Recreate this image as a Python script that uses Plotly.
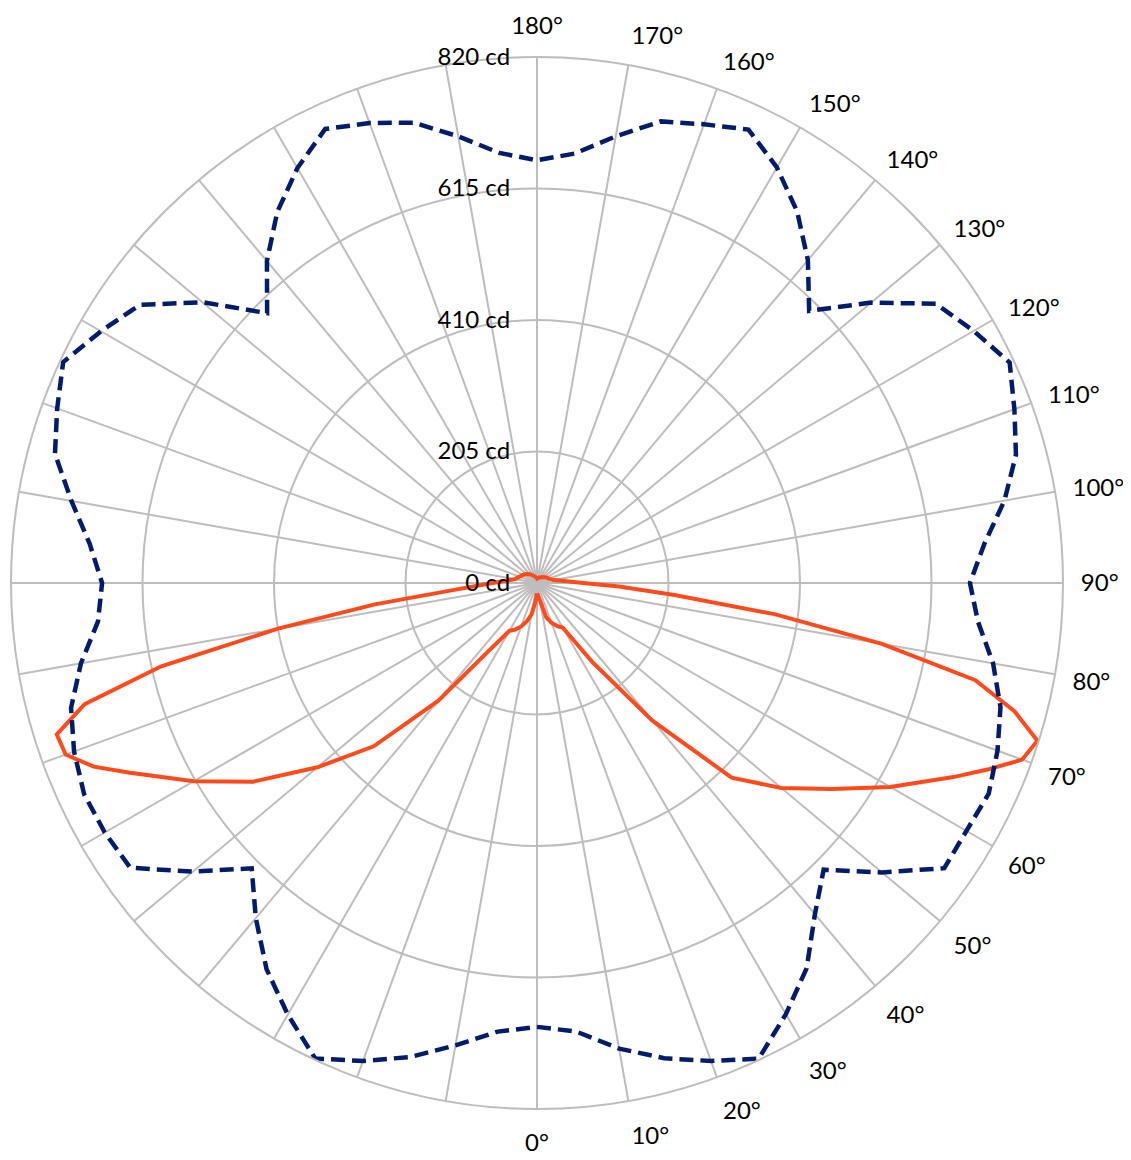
import plotly.graph_objects as go

# Gamma angles (degrees) and luminous intensities (cd)
gamma_blue = list(range(0, 181, 5))
blue_right = [692, 702, 737, 767, 793, 818, 776, 733, 674, 632, 702, 775, 773, 777,
              764, 748, 722, 690, 675, 700, 740, 773, 792, 813, 786, 759, 680, 600,
              657, 707, 748, 780, 761, 745, 707, 672, 659]
blue_left = [692, 702, 732, 765, 793, 818, 777, 735, 682, 629, 700, 774, 778, 779,
             768, 752, 722, 687, 678, 700, 737, 778, 796, 815, 785, 756, 681, 595,
             655, 706, 747, 781, 763, 743, 707, 673, 659]

gamma_orange = [0, 5, 10, 15, 20, 25, 30, 35, 40, 45, 50, 55, 60, 65, 67.5, 70, 72.5,
                75, 77.5, 80, 82.5, 85, 87.5, 90, 95, 100, 110, 120, 130, 140, 150,
                160, 170, 180]
orange_right = [16, 20, 28, 55, 66, 74, 80, 150, 280, 429, 497, 560, 636, 716, 760,
                805, 818, 770, 700, 546, 375, 215, 128, 72, 39, 26, 20, 17, 14, 12,
                10, 9, 8, 7]
orange_left = [16, 30, 50, 62, 72, 80, 86, 125, 240, 360, 447, 540, 618, 700, 748,
               782, 785, 730, 600, 410, 255, 136, 91, 69, 46, 35, 29, 25, 22, 18,
               14, 11, 9, 7]

angle_ticks = list(range(0, 360, 10))
angle_labels = [f"{a}°" if a <= 180 else "" for a in angle_ticks]
radial_ticks = [0, 205, 410, 615, 820]
radial_labels = [f"{v} cd" for v in radial_ticks]


def closed_curve(g, right, left):
    theta = list(g) + [360 - x for x in reversed(g)]
    r = list(right) + list(reversed(left))
    return theta, r


th_o, r_o = closed_curve(gamma_orange, orange_right, orange_left)
th_b, r_b = closed_curve(gamma_blue, blue_right, blue_left)

fig = go.Figure()
fig.add_trace(go.Scatterpolar(theta=th_o, r=r_o, mode="lines",
                              line=dict(color="#FF4A1C", width=4),
                              hoverinfo="skip"))
fig.add_trace(go.Scatterpolar(theta=th_b, r=r_b, mode="lines",
                              line=dict(color="#021C6B", width=4.5, dash="14px,7px"),
                              hoverinfo="skip"))

font = dict(family="Lato", size=24, color="black")
W, H = 1131, 1160
cx, cy, R = 529, 575, 526
fig.update_layout(
    width=W, height=H,
    margin=dict(l=0, r=0, t=0, b=0),
    paper_bgcolor="white",
    showlegend=False,
    polar=dict(
        domain=dict(x=[(cx - R) / W, (cx + R) / W],
                    y=[(H - cy - R) / H, (H - cy + R) / H]),
        bgcolor="white",
        angularaxis=dict(
            rotation=-90, direction="counterclockwise",
            tickmode="array", tickvals=angle_ticks, ticktext=angle_labels,
            showgrid=True, gridcolor="#BDBDBD", gridwidth=2,
            showline=True, linecolor="#BDBDBD", linewidth=2,
            ticks="outside", ticklen=12, tickcolor="rgba(0,0,0,0)",
            tickfont=font,
        ),
        radialaxis=dict(
            range=[0, 820], tickmode="array", tickvals=radial_ticks,
            ticktext=radial_labels, angle=90, side="counterclockwise",
            tickangle=90,
            showgrid=True, gridcolor="#BDBDBD", gridwidth=2,
            showline=False, ticks="outside", ticklen=18,
            tickcolor="rgba(0,0,0,0)", tickfont=font,
        ),
    ),
)
fig.write_html("out.html")
